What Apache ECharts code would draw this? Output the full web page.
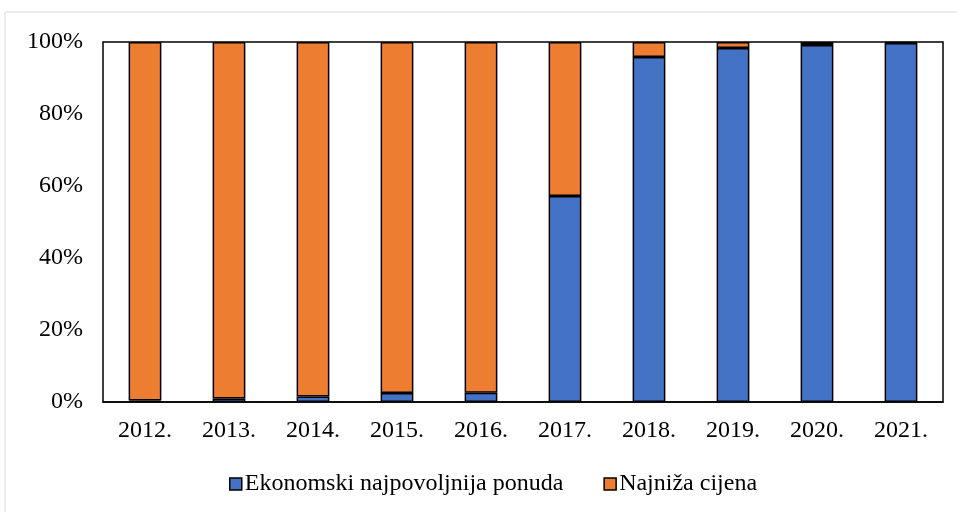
<!DOCTYPE html>
<html><head><meta charset="utf-8">
<script src="https://cdn.jsdelivr.net/npm/echarts@6/dist/echarts.min.js"></script>
<style>html,body{margin:0;padding:0;background:#fff}#c{width:957px;height:512px}</style>
</head><body><div id="c"></div>
<script>
const categories = ['2012.', '2013.', '2014.', '2015.', '2016.', '2017.', '2018.', '2019.', '2020.', '2021.'];
const ekonomski = [0.4, 1.0, 1.5, 2.5, 2.6, 57.2, 95.8, 98.3, 99.2, 99.7];
const najniza = [99.6, 99.0, 98.5, 97.5, 97.4, 42.8, 4.2, 1.7, 0.8, 0.3];
const seriesNames = ['Ekonomski najpovoljnija ponuda', 'Najniža cijena'];
const font = '"Liberation Serif", "Times New Roman", serif';
const chart = echarts.init(document.getElementById('c'));
chart.setOption({
  animation: false,
  textStyle: { fontFamily: font },
  graphic: [{ type: 'rect', shape: { x: 5, y: 12, width: 960, height: 510 }, style: { fill: 'none', stroke: '#d9d9d9', lineWidth: 1 }, silent: true }],
  grid: { left: 103, right: 14, top: 42, bottom: 110, show: true, borderColor: '#000', borderWidth: 1.5, backgroundColor: 'transparent' },
  legend: {
    top: 467, left: 224, itemWidth: 12, itemHeight: 12, itemGap: 40,
    textStyle: { fontFamily: font, fontSize: 24, color: '#000', padding: [0, 0, 0, -2] },
    data: seriesNames.map(n => ({ name: n, icon: 'rect', itemStyle: { borderColor: '#000', borderWidth: 1.5 } }))
  },
  xAxis: {
    type: 'category', data: categories,
    axisLine: { lineStyle: { color: '#000', width: 1.5 } },
    axisTick: { show: false },
    axisLabel: { fontFamily: font, fontSize: 24, color: '#000', margin: 17 }
  },
  yAxis: {
    type: 'value', min: 0, max: 100, interval: 20,
    axisLine: { show: false }, axisTick: { show: false },
    splitLine: { show: false },
    axisLabel: { fontFamily: font, fontSize: 24, color: '#000', margin: 20, formatter: '{value}%' }
  },
  series: [
    { name: seriesNames[0], type: 'bar', stack: 's', data: ekonomski, barWidth: '39%',
      itemStyle: { color: '#4472C4', borderColor: '#000', borderWidth: 1.5 } },
    { name: seriesNames[1], type: 'bar', stack: 's', data: najniza, barWidth: '39%',
      itemStyle: { color: '#ED7D31', borderColor: '#000', borderWidth: 1.5 } }
  ]
});
</script></body></html>
